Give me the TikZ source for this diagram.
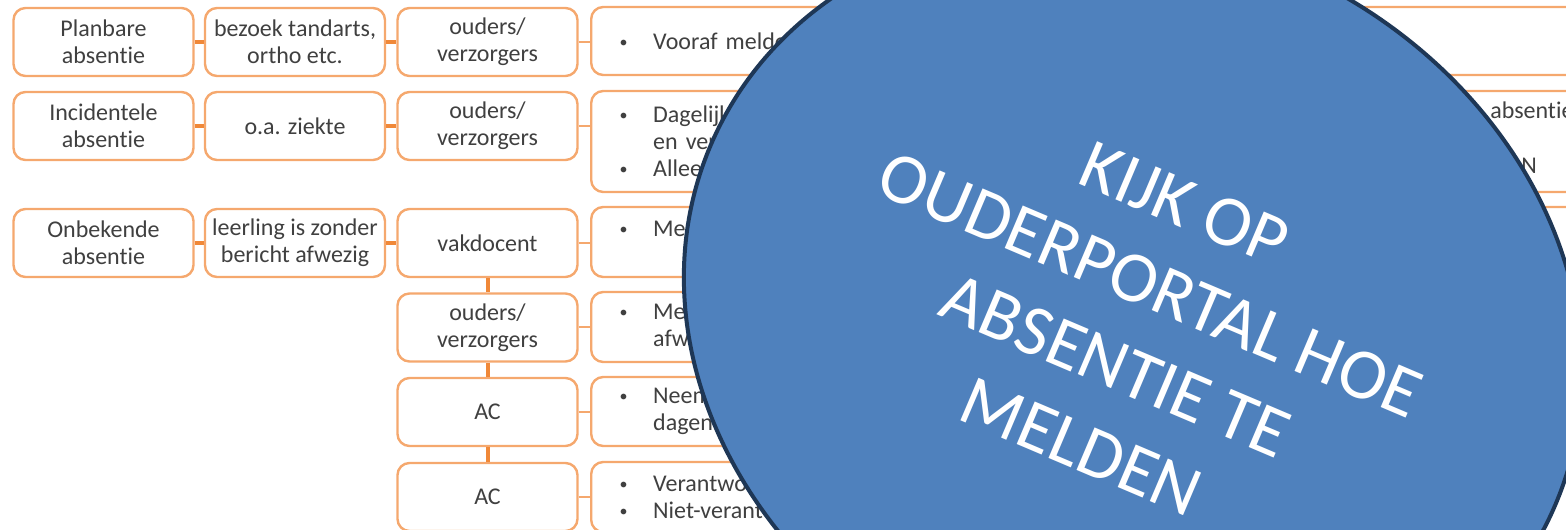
\documentclass[tikz,border=0pt]{standalone}
\usepackage{fontspec}
\setmainfont{Carlito}[Ligatures=NoCommon]
\usepackage{tikz}
\usepackage{xcolor}
\usetikzlibrary{arrows.meta,positioning,calc,shapes.geometric,backgrounds}

\definecolor{boxrand}{HTML}{F5A86E}
\definecolor{lijnoranje}{HTML}{F08838}
\definecolor{tekstgrijs}{HTML}{404040}
\definecolor{ovaalblauw}{HTML}{4F81BD}
\definecolor{ovaalrand}{HTML}{1E3756}

\newcommand{\opsom}{\makebox[26.25pt][l]{\hspace{1pt}\raisebox{1.5pt}{\fontsize{12}{12}\selectfont\textbullet}}}
\newcommand{\inspring}{\hspace*{26.25pt}}

\begin{document}
\begin{tikzpicture}[x=0.75pt, y=0.75pt,
    vak/.style={draw=boxrand, line width=1.8pt, rounded corners=9pt, fill=white,
        text=tekstgrijs, font=\fontsize{18}{20.25}\selectfont, align=center,
        minimum width=135pt, minimum height=51pt, inner sep=0pt},
    lijst/.style={vak, align=left, anchor=west, text width=740pt,
        inner xsep=20.25pt, inner ysep=0pt, minimum width=0pt},
    tekst/.style={text=tekstgrijs, font=\fontsize{18}{20.25}\selectfont, inner sep=0pt},
    verbind/.style={draw=lijnoranje, line width=3pt},
    dunverbind/.style={draw=boxrand, line width=1.5pt},
    ovaal/.style={ellipse, draw=ovaalrand, line width=3pt, fill=ovaalblauw, text=white,
        font=\fontsize{54}{66}\selectfont, align=center, inner sep=0pt,
        minimum width=688.5pt, minimum height=583.5pt, rotate=-23}]
    \useasboundingbox (0,0) rectangle (1566,-530);
    \clip (0,0) rectangle (1566,-530);

    % Planbare absentie
    \node[vak] (planA) at (103.5,-42) {Planbare\\absentie};
    \node[vak] (planB) at (295,-42) {bezoek tandarts,\\ortho etc.};
    \node[vak] (planC) at (487.5,-42) {ouders/\\verzorgers};
    \node[lijst, minimum height=51pt] (planD) at (590,-41) {\opsom Vooraf melden};

    % Incidentele absentie
    \node[vak] (incA) at (103.5,-126) {Incidentele\\absentie};
    \node[vak] (incB) at (295,-126) {o.a. ziekte};
    \node[vak] (incC) at (487.5,-126) {ouders/\\verzorgers};
    \node[lijst, minimum height=75.75pt] (incD) at (590,-141.5)
        {\opsom Dagelijks\\\inspring en verzorgers\\\opsom Alleen};
    \node[tekst, anchor=base west] (incAbs) at (1490,-119) {absentie};
    \node[tekst, anchor=base west] (incN) at (1521,-174) {N};

    % Onbekende absentie
    \node[vak] (onbA) at (103.5,-243) {Onbekende\\absentie};
    \node[vak] (onbB) at (295,-243) {leerling is zonder\\bericht afwezig};
    \node[vak] (onbC) at (487.5,-243) {vakdocent};
    \node[lijst, minimum height=52.5pt] (onbD) at (590,-242) {\opsom Melden\\\mbox{}};

    \node[vak] (oudC) at (487.5,-327.5) {ouders/\\verzorgers};
    \node[lijst, minimum height=52.5pt] (oudD) at (590,-327)
        {\opsom Melden\\\inspring afwezig};

    \node[vak] (acC) at (487.5,-412) {AC};
    \node[lijst, minimum height=51.75pt] (acD) at (590,-411.5)
        {\opsom Neem\\\inspring dagen};

    \node[vak] (acE) at (487.5,-497) {AC};
    \node[lijst, minimum height=52.5pt] (acF) at (590,-497)
        {\opsom Verantwoord\\\opsom Niet-verantwoord};

    % verbindingen
    \draw[verbind] (planA.east) -- (planB.west);
    \draw[verbind] (planB.east) -- (planC.west);
    \draw[dunverbind] (planC.east) -- (planC.east -| planD.west);
    \draw[verbind] (incA.east) -- (incB.west);
    \draw[verbind] (incB.east) -- (incC.west);
    \draw[dunverbind] (incC.east) -- (incC.east -| incD.west);
    \draw[verbind] (onbA.east) -- (onbB.west);
    \draw[verbind] (onbB.east) -- (onbC.west);
    \draw[dunverbind] (onbC.east) -- (onbC.east -| onbD.west);
    \draw[verbind] (onbC.south) -- (oudC.north);
    \draw[dunverbind] (oudC.east) -- (oudC.east -| oudD.west);
    \draw[verbind] (oudC.south) -- (acC.north);
    \draw[dunverbind] (acC.east) -- (acC.east -| acD.west);
    \draw[verbind] (acC.south) -- (acE.north);
    \draw[dunverbind] (acE.east) -- (acE.east -| acF.west);

    % oproep
    \node[ovaal] (oproep) at (1133,-325) {KIJK OP\\OUDERPORTAL HOE\\ABSENTIE TE\\MELDEN};
\end{tikzpicture}
\end{document}
